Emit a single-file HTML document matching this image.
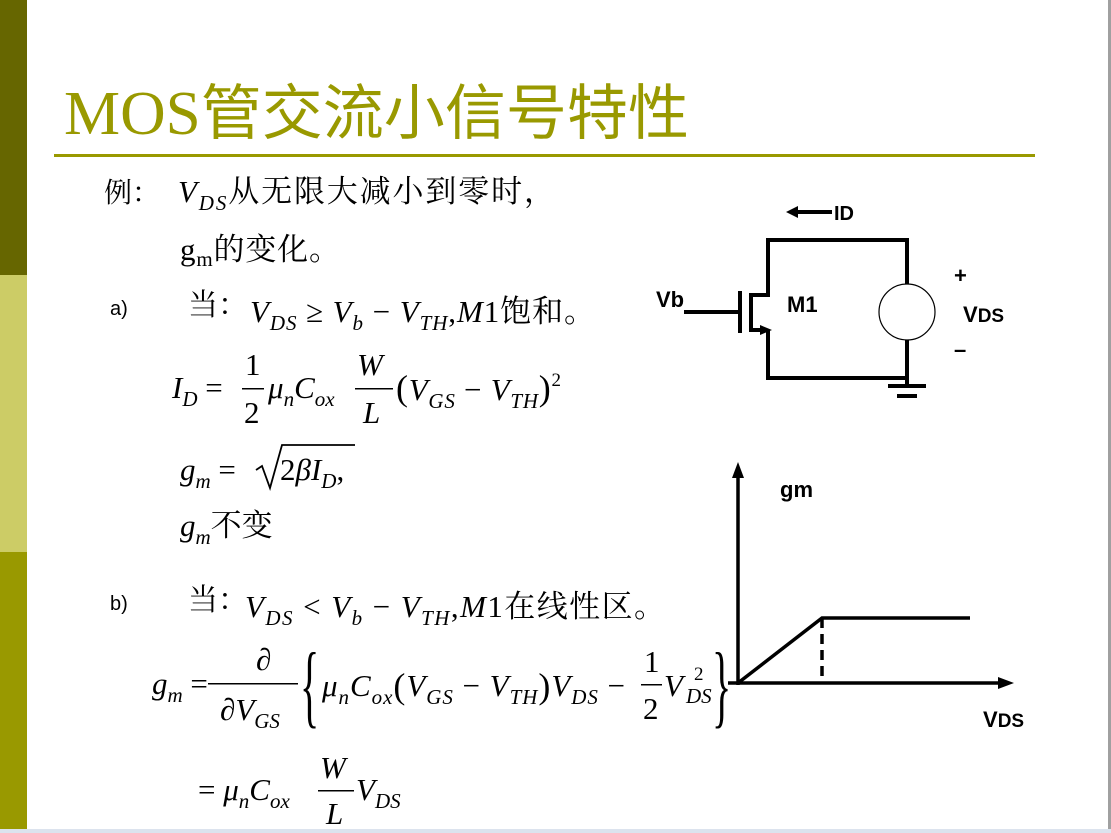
<!DOCTYPE html>
<html><head><meta charset="utf-8"><style>
html,body{margin:0;padding:0;background:#fff;}
svg{display:block;}
.s{font-family:"Liberation Serif","Noto Serif CJK SC",serif;}
.i{font-style:italic;}
.h{font-family:"Liberation Sans",Arial,sans-serif;font-weight:bold;}
</style></head><body>
<svg width="1111" height="833" viewBox="0 0 1111 833" xmlns="http://www.w3.org/2000/svg">
<rect width="1111" height="833" fill="#fff"/>
<rect x="1108" y="0" width="3" height="833" fill="#a0a0a0"/>
<rect x="0" y="829" width="1111" height="4" fill="#dce3ee"/>
<rect x="0" y="0" width="27" height="275" fill="#666600"/>
<rect x="0" y="275" width="27" height="277" fill="#cccc66"/>
<rect x="0" y="552" width="27" height="277" fill="#999900"/>
<text x="64" y="134" class="s" font-size="62" fill="#999900" textLength="625" lengthAdjust="spacingAndGlyphs">MOS<tspan font-family="Noto Sans CJK SC,sans-serif" font-size="60">管交流小信号特性</tspan></text>
<rect x="54" y="154" width="981" height="3" fill="#999900"/>
<g class="s" font-size="31" fill="#000">
<text x="104" y="202" font-size="28">例：</text>
<text x="178" y="202" textLength="377"><tspan class="i">V</tspan><tspan class="i" font-size="21" dy="8">DS</tspan><tspan dy="-8">从无限大减小到零时，</tspan></text>
<text x="180" y="260" textLength="160">g<tspan font-size="21" dy="6">m</tspan><tspan dy="-6">的变化。</tspan></text>
<text x="110" y="315" class="h" font-size="20" style="font-weight:normal">a)</text>
<text x="188" y="315" font-size="30">当：</text>
<text x="250" y="322" textLength="345"><tspan class="i">V</tspan><tspan class="i" font-size="21" dy="8">DS</tspan><tspan dy="-8"> ≥ </tspan><tspan class="i">V</tspan><tspan class="i" font-size="21" dy="8">b</tspan><tspan dy="-8"> − </tspan><tspan class="i">V</tspan><tspan class="i" font-size="21" dy="8">TH</tspan><tspan dy="-8">,</tspan><tspan class="i">M</tspan>1饱和。</text>
<text x="172" y="398"><tspan class="i">I</tspan><tspan class="i" font-size="21" dy="8">D</tspan><tspan dy="-8"> = </tspan></text>
<text x="245" y="375">1</text><rect x="242" y="388" width="22" height="1.5"/><text x="244" y="423">2</text>
<text x="268" y="398"><tspan class="i">μ</tspan><tspan class="i" font-size="21" dy="8">n</tspan><tspan class="i" dy="-8">C</tspan><tspan class="i" font-size="21" dy="8">ox</tspan></text>
<text x="357" y="375" class="i">W</text><rect x="355" y="388" width="38" height="1.5"/><text x="363" y="423" class="i">L</text>
<text x="396" y="400" textLength="165"><tspan font-size="36">(</tspan><tspan class="i">V</tspan><tspan class="i" font-size="21" dy="8">GS</tspan><tspan dy="-8"> − </tspan><tspan class="i">V</tspan><tspan class="i" font-size="21" dy="8">TH</tspan><tspan dy="-8" font-size="36">)</tspan><tspan font-size="19" dy="-14">2</tspan></text>
<text x="180" y="480"><tspan class="i">g</tspan><tspan class="i" font-size="21" dy="8">m</tspan><tspan dy="-8"> = </tspan></text>
<path d="M256 470 L262 466 L270 488 L282 445 L355 445" fill="none" stroke="#000" stroke-width="1.8"/>
<text x="280" y="480">2<tspan class="i">βI</tspan><tspan class="i" font-size="21" dy="8">D</tspan><tspan dy="-8">,</tspan></text>
<text x="180" y="536"><tspan class="i">g</tspan><tspan class="i" font-size="21" dy="8">m</tspan><tspan dy="-8">不变</tspan></text>
<text x="110" y="610" class="h" font-size="20" style="font-weight:normal">b)</text>
<text x="188" y="610" font-size="30">当：</text>
<text x="245" y="617" textLength="420"><tspan class="i">V</tspan><tspan class="i" font-size="21" dy="8">DS</tspan><tspan dy="-8"> &lt; </tspan><tspan class="i">V</tspan><tspan class="i" font-size="21" dy="8">b</tspan><tspan dy="-8"> − </tspan><tspan class="i">V</tspan><tspan class="i" font-size="21" dy="8">TH</tspan><tspan dy="-8">,</tspan><tspan class="i">M</tspan>1在线性区。</text>
<text x="152" y="694"><tspan class="i">g</tspan><tspan class="i" font-size="21" dy="8">m</tspan><tspan dy="-8"> = </tspan></text>
<text x="256" y="670" class="i">∂</text><rect x="208" y="683" width="90" height="1.5"/><text x="220" y="720"><tspan class="i">∂V</tspan><tspan class="i" font-size="21" dy="8">GS</tspan></text>
<text transform="translate(300,716) scale(1,2.3)" font-size="40">{</text>
<text x="322" y="696" textLength="303"><tspan class="i">μ</tspan><tspan class="i" font-size="21" dy="8">n</tspan><tspan class="i" dy="-8">C</tspan><tspan class="i" font-size="21" dy="8">ox</tspan><tspan dy="-6" font-size="36">(</tspan><tspan class="i" dy="-2">V</tspan><tspan class="i" font-size="21" dy="8">GS</tspan><tspan dy="-8"> − </tspan><tspan class="i">V</tspan><tspan class="i" font-size="21" dy="8">TH</tspan><tspan dy="-6" font-size="36">)</tspan><tspan class="i" dy="-2">V</tspan><tspan class="i" font-size="21" dy="8">DS</tspan><tspan dy="-8"> −</tspan></text>
<text x="644" y="672">1</text><rect x="641" y="684" width="21" height="1.5"/><text x="643" y="719">2</text>
<text x="664" y="696" class="i">V</text><text x="686" y="703" class="i" font-size="21">DS</text><text x="694" y="680" font-size="19">2</text>
<text transform="translate(712,716) scale(1,2.3)" font-size="40">}</text>
<text x="198" y="800">= <tspan class="i">μ</tspan><tspan class="i" font-size="21" dy="8">n</tspan><tspan class="i" dy="-8">C</tspan><tspan class="i" font-size="21" dy="8">ox</tspan></text>
<text x="320" y="778" class="i">W</text><rect x="318" y="790" width="36" height="1.5"/><text x="326" y="824" class="i">L</text>
<text x="356" y="800"><tspan class="i">V</tspan><tspan class="i" font-size="21" dy="8">DS</tspan></text>
</g>
<!-- circuit -->
<g stroke="#000" stroke-width="4" fill="none">
<line x1="795" y1="212" x2="832" y2="212"/>
<polyline points="907,285 907,240 768,240 768,295 752,295"/>
<line x1="751" y1="293" x2="751" y2="332"/>
<line x1="740" y1="291" x2="740" y2="333"/>
<line x1="684" y1="312" x2="740" y2="312"/>
<polyline points="752,330 762,330"/>
<polyline points="768,330 768,378 907,378 907,340"/>
<line x1="907" y1="378" x2="907" y2="386"/>
<line x1="888" y1="386" x2="926" y2="386"/>
<line x1="897" y1="396" x2="917" y2="396"/>
</g>
<polygon points="786,212 798,206 798,218" fill="#000"/>
<polygon points="772,330 760,325 760,335" fill="#000"/>
<circle cx="907" cy="312" r="28" fill="#fff" stroke="#000" stroke-width="1.2"/>
<g class="h" fill="#000">
<text x="834" y="220" font-size="20">ID</text>
<text x="656" y="307" font-size="22">Vb</text>
<text x="787" y="312" font-size="22">M1</text>
<text x="954" y="283" font-size="22">+</text>
<text x="963" y="322" font-size="22">V<tspan font-size="19">DS</tspan></text>
<text x="954" y="357" font-size="22">–</text>
<text x="780" y="497" font-size="22">gm</text>
<text x="983" y="727" font-size="22">V<tspan font-size="19">DS</tspan></text>
</g>
<!-- graph -->
<g stroke="#000" stroke-width="3.5" fill="none">
<line x1="738" y1="476" x2="738" y2="685"/>
<line x1="728" y1="683" x2="1000" y2="683"/>
<polyline points="738,683 822,618 970,618"/>
<line x1="822" y1="618" x2="822" y2="683" stroke-dasharray="10,6"/>
</g>
<polygon points="738,462 732,478 744,478" fill="#000"/>
<polygon points="1014,683 998,677 998,689" fill="#000"/>
</svg>
</body></html>
